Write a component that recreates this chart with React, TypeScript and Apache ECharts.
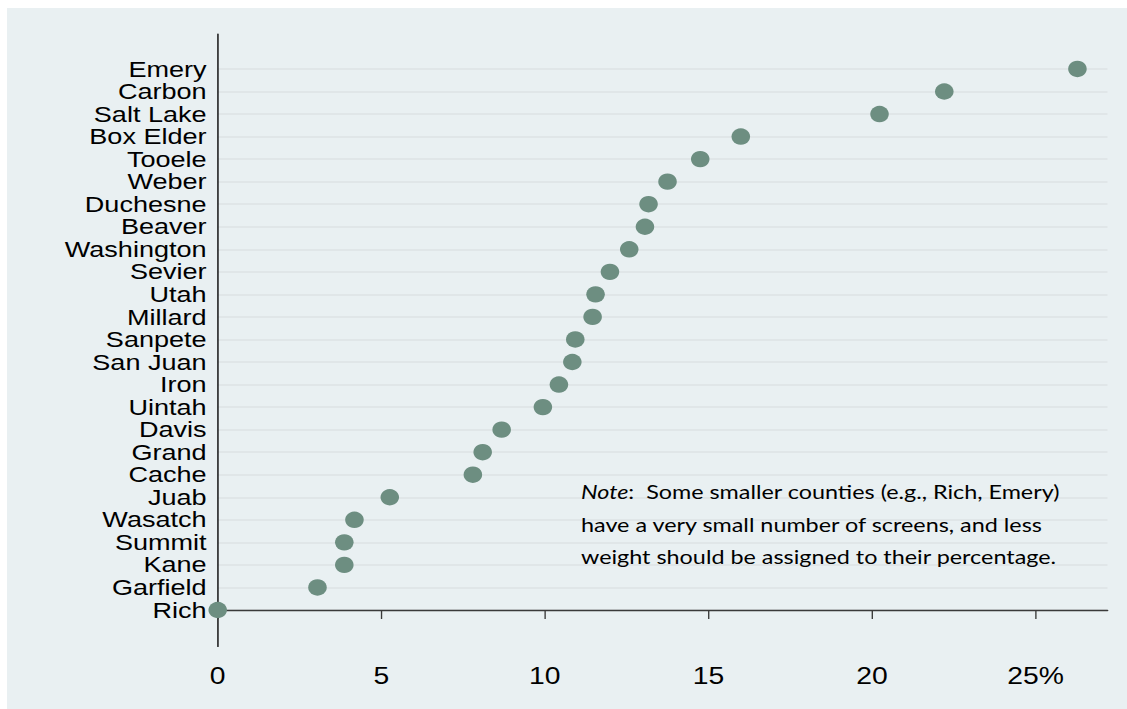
import React, { useEffect, useRef } from "react";
import * as echarts from "echarts";

const counties = [
  "Emery", "Carbon", "Salt Lake", "Box Elder", "Tooele", "Weber", "Duchesne",
  "Beaver", "Washington", "Sevier", "Utah", "Millard", "Sanpete", "San Juan",
  "Iron", "Uintah", "Davis", "Grand", "Cache", "Juab", "Wasatch", "Summit",
  "Kane", "Garfield", "Rich",
];
const pct = [
  26.28, 22.21, 20.23, 15.99, 14.75, 13.75, 13.17, 13.06, 12.58, 11.99, 11.55,
  11.46, 10.93, 10.84, 10.43, 9.94, 8.68, 8.1, 7.8, 5.26, 4.18, 3.87, 3.87,
  3.05, 0,
];
const xTicks = [0, 5, 10, 15, 20, 25];
const xTickLabels = ["0", "5", "10", "15", "20", "25%"];
const noteLines = [
  "{i|Note}:  Some smaller counties (e.g., Rich, Emery)",
  "have a very small number of screens, and less",
  "weight should be assigned to their percentage.",
];

// The original graphic is stretched horizontally; reproduce with a CSS scaleX.
const STRETCH = 1.23;
const VIS_W = 1120;
const VIS_H = 701;

export default function App() {
  const ref = useRef<HTMLDivElement>(null);
  useEffect(() => {
    if (!ref.current) return;
    const chart = echarts.init(ref.current, null, { renderer: "svg" });
    const n = counties.length;
    const yPos = counties.map((_, i) => n - 1 - i);
    const font = "'Liberation Sans', Arial, sans-serif";
    const W = VIS_W / STRETCH;
    chart.setOption({
      animation: false,
      backgroundColor: "#e9f0f2",
      grid: {
        left: 210.7 / STRETCH,
        right: W - 1100 / STRETCH,
        top: 26,
        bottom: 62.5,
        containLabel: false,
      },
      xAxis: {
        type: "value",
        min: 0,
        max: 27.2,
        interval: 5,
        axisLine: { show: true, lineStyle: { color: "#3a3a3a", width: 1.4 } },
        axisTick: { show: true, length: 9, customValues: xTicks, lineStyle: { color: "#3a3a3a", width: 1.1 } },
        axisLabel: {
          customValues: xTicks,
          formatter: (v: number) => xTickLabels[xTicks.indexOf(v)] ?? "",
          color: "#000",
          fontSize: 23,
          fontFamily: font,
          margin: 18,
          showMinLabel: true,
          showMaxLabel: true,
        },
        splitLine: { show: false },
      },
      yAxis: {
        type: "value",
        min: -1.62,
        max: 25.55,
        axisLine: { show: true, lineStyle: { color: "#111", width: 1.2 } },
        axisTick: { show: false, customValues: yPos },
        axisLabel: {
          customValues: yPos,
          formatter: (v: number) => counties[n - 1 - Math.round(v)] ?? "",
          color: "#000",
          fontSize: 22,
          lineHeight: 22,
          fontFamily: font,
          margin: 9,
          showMinLabel: true,
          showMaxLabel: true,
          hideOverlap: false,
        },
        splitLine: { show: true, lineStyle: { color: "#dde3e5", width: 1.5 } },
      },
      series: [
        {
          type: "scatter",
          data: pct.map((v, i) => [v, yPos[i]]),
          symbol: "circle",
          symbolSize: [15.1, 16.4],
          clip: false,
          itemStyle: { color: "#6d8e81", opacity: 1 },
          z: 3,
        },
      ],
      graphic: [
        {
          type: "text",
          left: 574 / STRETCH,
          top: 468,
          z: 100,
          style: {
            text: noteLines.join("\n"),
            font: "19px Lato, 'Open Sans', sans-serif",
            fill: "#000",
            lineHeight: 32.5,
            rich: {
              i: { fontStyle: "italic", fontSize: 19, fontFamily: "Lato, 'Open Sans', sans-serif", fill: "#000", lineHeight: 32.5 },
            },
          },
        },
      ],
    });
    return () => chart.dispose();
  }, []);
  return (
    <div
      ref={ref}
      style={{
        position: "fixed",
        left: 7,
        top: 8,
        width: VIS_W / STRETCH,
        height: VIS_H,
        transform: `scaleX(${STRETCH})`,
        transformOrigin: "0 0",
      }}
    />
  );
}
